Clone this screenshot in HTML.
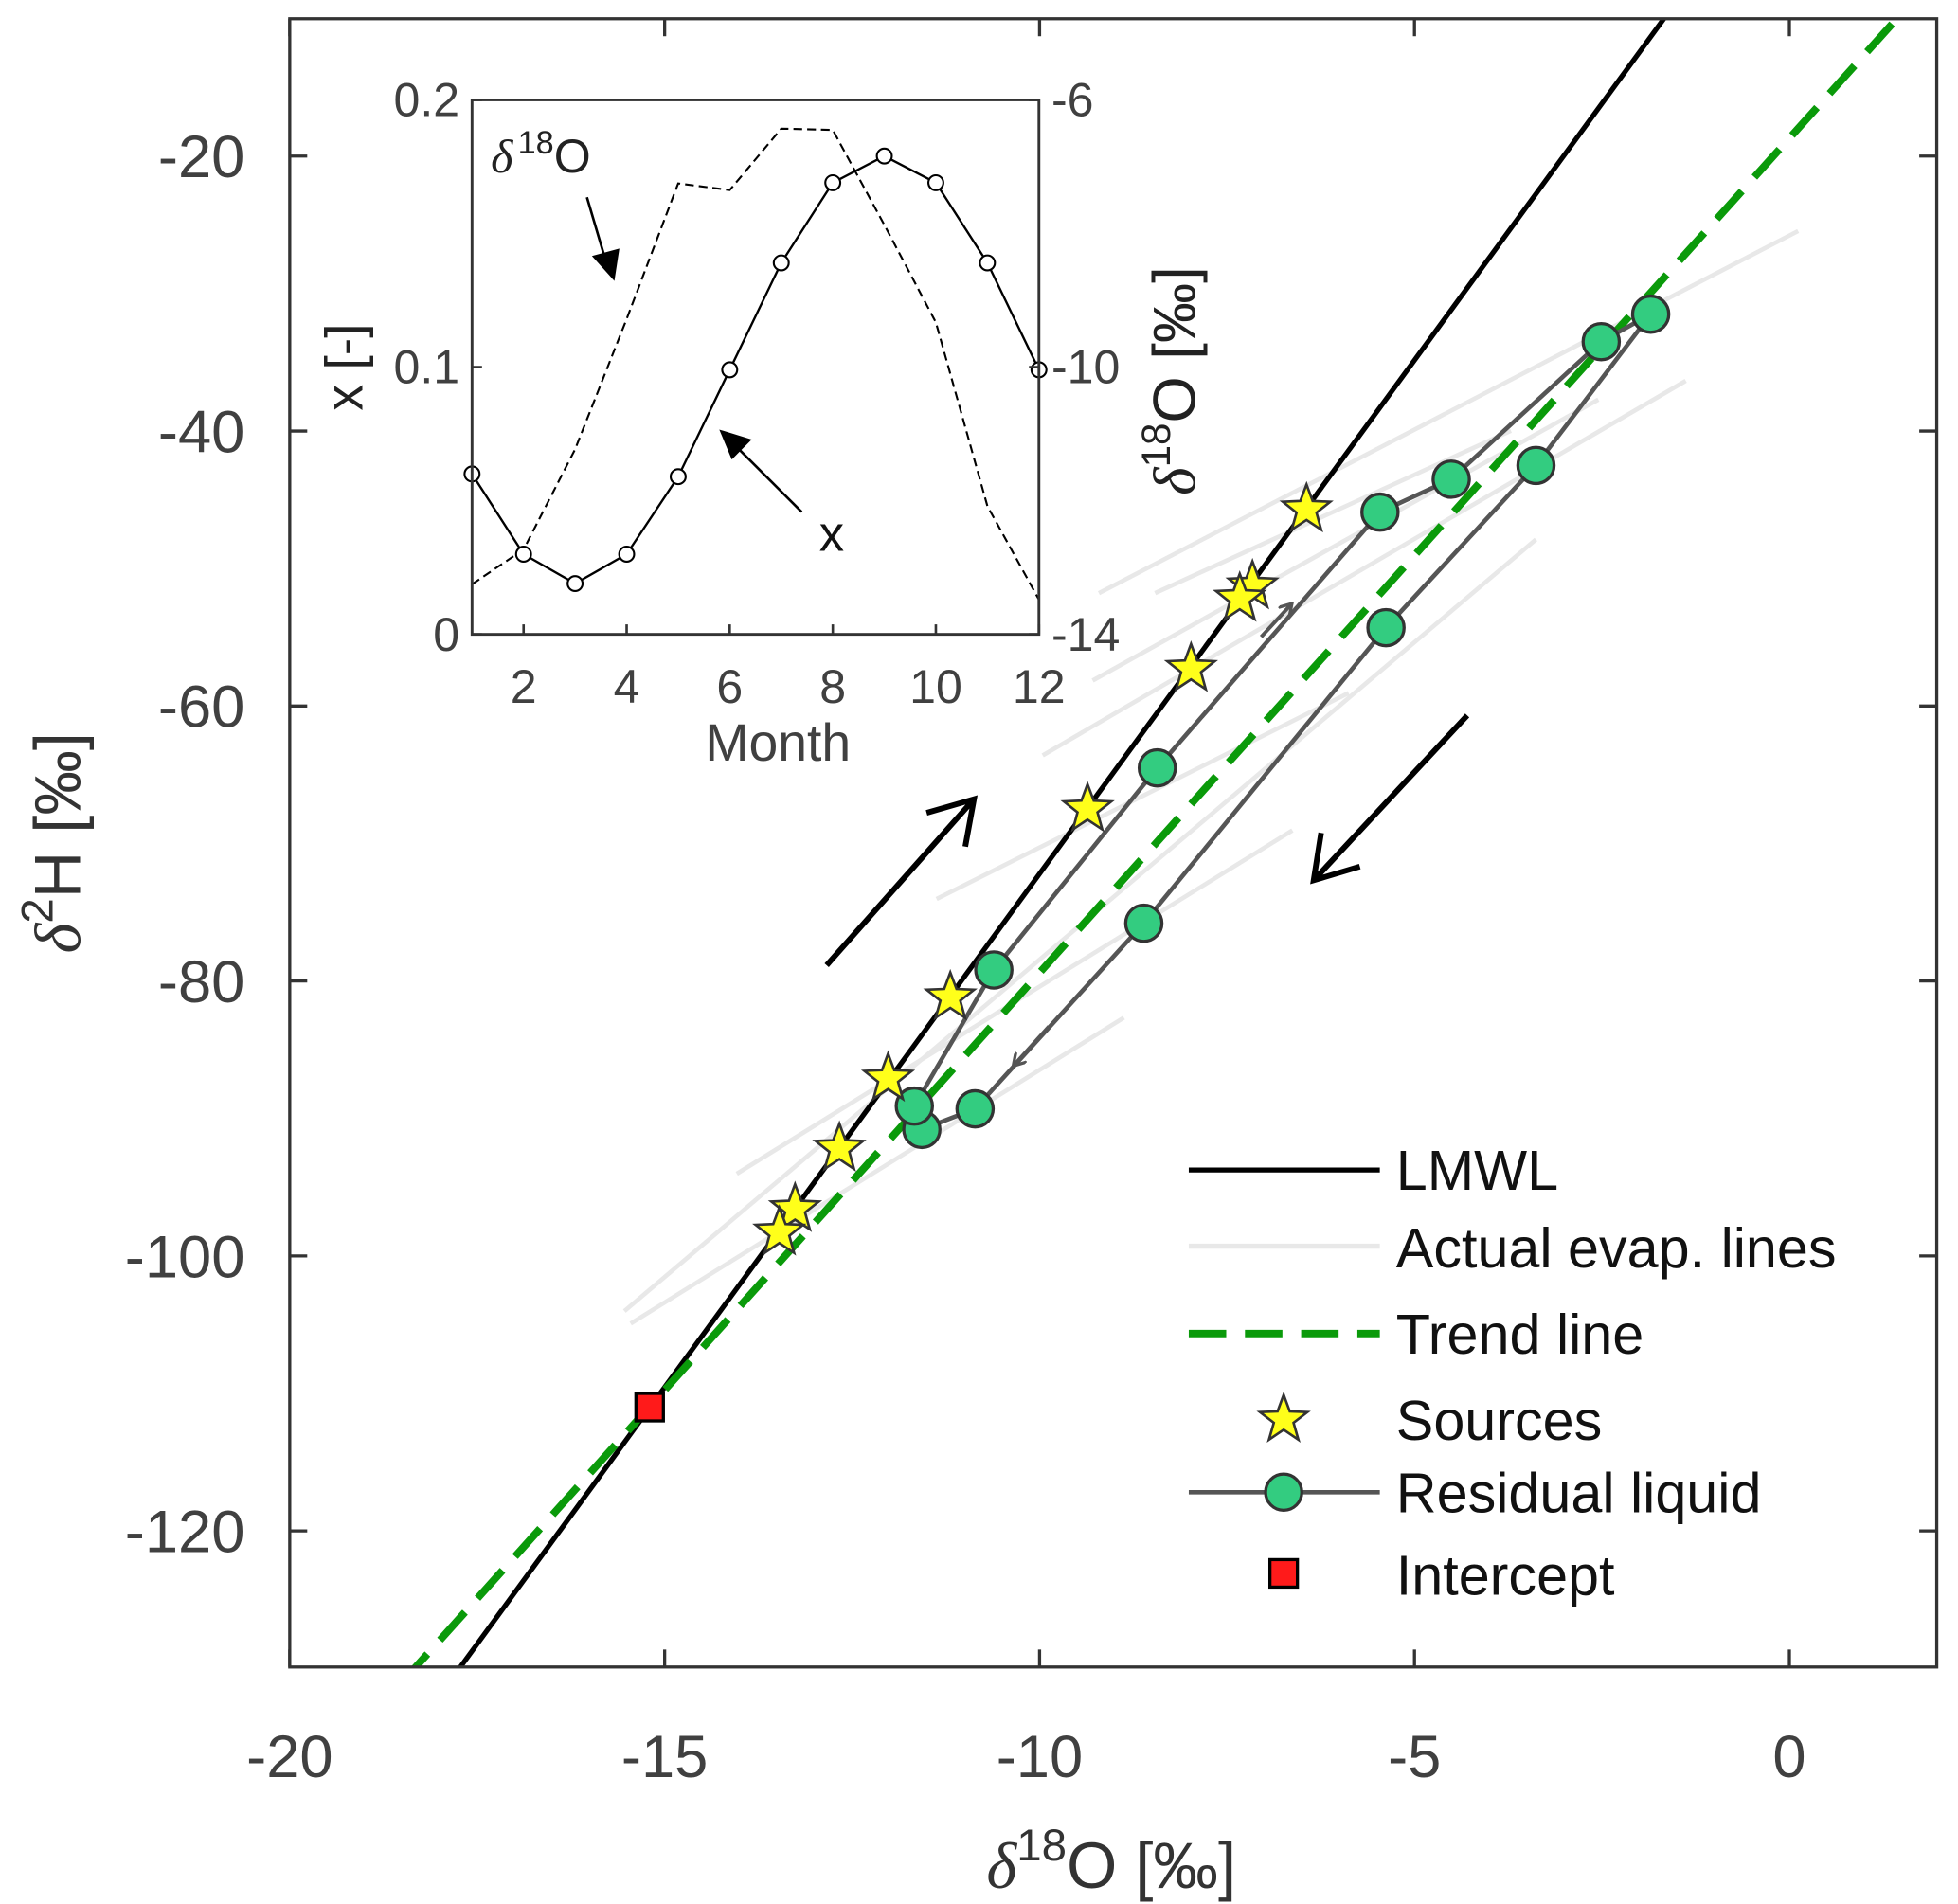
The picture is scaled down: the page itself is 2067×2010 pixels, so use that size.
<!DOCTYPE html>
<html><head><meta charset="utf-8"><style>
html,body{margin:0;padding:0;background:#fff;}
svg{display:block;font-family:"Liberation Sans",sans-serif;}
</style></head><body>
<svg id="chart" width="2067" height="2010" viewBox="0 0 1568 1524.8" xmlns="http://www.w3.org/2000/svg">
<g id="main"></g>
<g id="inset"></g>
</svg>
<script>
// ---- main chart data ----
const xTicks = [-20, -15, -10, -5, 0];
const yTicks = [-20, -40, -60, -80, -100, -120];
const lmwlSlope = 7.47, lmwlIntercept = 2.5;
const trendSlope = 6.07, trendIntercept = -18.7;
const srcX = [-6.44, -7.16, -7.33, -7.98, -9.36, -11.19, -12.02, -12.67, -13.26, -13.47];
const srcY = [-45.7, -51.3, -52.2, -57.3, -67.5, -81.2, -87.1, -92.2, -96.6, -98.3];
const resX = [-11.57, -11.67, -10.61, -8.43, -5.46, -4.51, -2.51, -1.85, -3.38, -5.38, -8.61, -10.86];
const resY = [-90.8, -89.1, -79.2, -64.5, -45.9, -43.5, -33.5, -31.5, -42.5, -54.3, -75.8, -89.3];
const interceptX = [-15.2];
const interceptY = [-111];
// ---- inset data ----
const months = [1,2,3,4,5,6,7,8,9,10,11,12];
const xFrac = [0.060, 0.030, 0.019, 0.030, 0.059, 0.099, 0.139, 0.169, 0.179, 0.169, 0.139, 0.099];
const d18O = [-13.25, -12.73, -11.23, -9.28, -7.25, -7.35, -6.43, -6.45, -7.87, -9.33, -12.08, -13.48];
const insetXTicks = [2,4,6,8,10,12];
const insetYTicks = [0, 0.1, 0.2];
const insetY2Ticks = [-6, -10, -14];

const NS = "http://www.w3.org/2000/svg";
const L=232,R=1551,T=15,B=1335;
const sx = v => 232 + (v+20)*60.05;
const sy = v => 125 - (v+20)*11.01;
function el(parent, tag, attrs, text){const e=document.createElementNS(NS,tag);for(const k in attrs)e.setAttribute(k,attrs[k]);if(text!==undefined)e.textContent=text;parent.appendChild(e);return e;}
const main=document.getElementById('main');
const inset=document.getElementById('inset');

const defs=el(main,'defs',{});
const cp=el(defs,'clipPath',{id:'clipMain'});el(cp,'rect',{x:L,y:T,width:R-L,height:B-T});
const mk=el(defs,'marker',{id:'arrowG',markerWidth:12,markerHeight:12,refX:9,refY:6,orient:'auto',markerUnits:'userSpaceOnUse'});
el(mk,'path',{d:'M0,0 L10,6 L0,12',fill:'none',stroke:'#555','stroke-width':2.5});

const evap=[[925,475,1210,345],[875,545,1280,320],[835,605,1350,305],[750,720,1080,555],[590,940,1035,665],[505,1060,900,815],[500,1050,1230,432],[880,475,1440,185]];
const eg=el(main,'g',{'clip-path':'url(#clipMain)'});
evap.forEach(s=>{const l=el(eg,'line',{x1:s[0],y1:s[1],x2:s[2],y2:s[3],stroke:'#e8e8e8','stroke-width':3.5});

});

const lg=el(main,'g',{'clip-path':'url(#clipMain)'});
const lm=el(lg,'line',{x1:sx(-20),y1:sy(lmwlSlope*-20+lmwlIntercept),x2:sx(2),y2:sy(lmwlSlope*2+lmwlIntercept),stroke:'#000','stroke-width':4});


const tr=el(lg,'line',{x1:sx(-20),y1:sy(trendSlope*-20+trendIntercept),x2:sx(2),y2:sy(trendSlope*2+trendIntercept),stroke:'#0a9a0a','stroke-width':6,'stroke-dasharray':'30,15'});



let pts=resX.map((x,i)=>sx(x)+','+sy(resY[i])).join(' ');
pts+=' '+sx(resX[0])+','+sy(resY[0]);
const rp=el(main,'polyline',{points:pts,fill:'none',stroke:'#555','stroke-width':3.5});


el(main,'line',{x1:1010,y1:510,x2:1034,y2:484,stroke:'#555','stroke-width':3,'marker-end':'url(#arrowG)'});
el(main,'line',{x1:840,y1:822,x2:812,y2:853,stroke:'#555','stroke-width':3,'marker-end':'url(#arrowG)'});

el(main,'path',{d:'M662,773 L780,640 M742,651 L780,640 L773,678',fill:'none',stroke:'#000','stroke-width':4.5});
el(main,'path',{d:'M1175,573 L1052,705 M1058,667 L1052,705 L1089,694',fill:'none',stroke:'#000','stroke-width':4.5});

function star(cx,cy,r){let d='';for(let i=0;i<10;i++){const rr=i%2?r*0.42:r;const a=-Math.PI/2+i*Math.PI/5;d+=(i?'L':'M')+(cx+rr*Math.cos(a)).toFixed(1)+','+(cy+rr*Math.sin(a)).toFixed(1);}return d+'Z';}
resX.forEach((x,i)=>{const c=el(main,'circle',{cx:sx(x),cy:sy(resY[i]),r:14.5,fill:'#33cc80',stroke:'#333','stroke-width':2.5});

});
srcX.forEach((x,i)=>{const s=el(main,'path',{d:star(sx(x),sy(srcY[i]),20),fill:'#ffff1a',stroke:'#333','stroke-width':2});

});
interceptX.forEach((x,i)=>{const q=el(main,'rect',{x:sx(x)-11,y:sy(interceptY[i])-11,width:22,height:22,fill:'#ff1a1a',stroke:'#000','stroke-width':2.5});

});

el(main,'rect',{x:L,y:T,width:R-L,height:B-T,fill:'none',stroke:'#333','stroke-width':2.5});
xTicks.forEach(v=>{const x=sx(v);el(main,'line',{x1:x,y1:B,x2:x,y2:B-14,stroke:'#333','stroke-width':2.5});el(main,'line',{x1:x,y1:T,x2:x,y2:T+14,stroke:'#333','stroke-width':2.5});
const t=el(main,'text',{x:x,y:1423,'font-size':48,fill:'#404040','text-anchor':'middle'},v);

});
yTicks.forEach(v=>{const y=sy(v);el(main,'line',{x1:L,y1:y,x2:L+14,y2:y,stroke:'#333','stroke-width':2.5});el(main,'line',{x1:R,y1:y,x2:R-14,y2:y,stroke:'#333','stroke-width':2.5});
const t=el(main,'text',{x:196,y:y+17,'font-size':48,fill:'#404040','text-anchor':'end'},v);

});
</script>
<script>
(function(){
const main=document.getElementById('main');
main.insertAdjacentHTML('beforeend',`
<text x="890" y="1512" font-size="52" fill="#333" text-anchor="middle"><tspan font-family="Liberation Serif" font-style="italic">δ</tspan><tspan font-size="36" dy="-22">18</tspan><tspan dy="22">O [‰]</tspan></text>
<text transform="translate(64,675) rotate(-90)" font-size="52" fill="#333" text-anchor="middle"><tspan font-family="Liberation Serif" font-style="italic">δ</tspan><tspan font-size="36" dy="-22">2</tspan><tspan dy="22">H [‰]</tspan></text>
<g font-size="45" fill="#111">
<line x1="952" y1="937" x2="1105" y2="937" stroke="#000" stroke-width="4"/>
<text x="1118" y="953">LMWL</text>
<line x1="952" y1="998" x2="1105" y2="998" stroke="#e8e8e8" stroke-width="4"/>
<text x="1118" y="1015">Actual evap. lines</text>
<line x1="952" y1="1068" x2="1105" y2="1068" stroke="#0a9a0a" stroke-width="6" stroke-dasharray="30,15"/>
<text x="1118" y="1084">Trend line</text>
<path d="M1028,1117 L1032.9,1130.3 L1047,1130.8 L1035.9,1139.4 L1039.8,1153 L1028,1145 L1016.2,1153 L1020.1,1139.4 L1009,1130.8 L1023.1,1130.3 Z" fill="#ffff1a" stroke="#333" stroke-width="2"/>
<text x="1118" y="1153">Sources</text>
<line x1="952" y1="1195" x2="1105" y2="1195" stroke="#555" stroke-width="3.5"/>
<circle cx="1028" cy="1195" r="14.5" fill="#33cc80" stroke="#333" stroke-width="2.5"/>
<text x="1118" y="1211">Residual liquid</text>
<rect x="1017" y="1249" width="22" height="22" fill="#ff1a1a" stroke="#000" stroke-width="2.5"/>
<text x="1118" y="1277">Intercept</text>
</g>`);
})();
</script>
<script>
(function(){
const NS="http://www.w3.org/2000/svg";
const inset=document.getElementById('inset');
function el(p,t,a,txt){const e=document.createElementNS(NS,t);for(const k in a)e.setAttribute(k,a[k]);if(txt!==undefined)e.textContent=txt;p.appendChild(e);return e;}
const iL=378,iR=832,iT=80,iB=508;
const ix=m=>iL+(m-1)*(iR-iL)/11;
const iy=v=>iB-v*(iB-iT)/0.2;
const iy2=v=>iB-(v+14)*(iB-iT)/8;
el(inset,'rect',{x:iL,y:iT,width:iR-iL,height:iB-iT,fill:'#fff',stroke:'none'});
const dl=el(inset,'polyline',{points:months.map((m,i)=>ix(m)+','+iy2(d18O[i])).join(' '),fill:'none',stroke:'#000','stroke-width':1.6,'stroke-dasharray':'7,4'});


const xl=el(inset,'polyline',{points:months.map((m,i)=>ix(m)+','+iy(xFrac[i])).join(' '),fill:'none',stroke:'#000','stroke-width':1.8});


months.forEach((m,i)=>{const c=el(inset,'circle',{cx:ix(m),cy:iy(xFrac[i]),r:6,fill:'#fff',stroke:'#000','stroke-width':1.6});

});
el(inset,'rect',{x:iL,y:iT,width:iR-iL,height:iB-iT,fill:'none',stroke:'#333','stroke-width':2.2});
insetXTicks.forEach(m=>{el(inset,'line',{x1:ix(m),y1:iB,x2:ix(m),y2:iB-8,stroke:'#333','stroke-width':2});
const t=el(inset,'text',{x:ix(m),y:563,'font-size':38,fill:'#404040','text-anchor':'middle'},m);

});
insetYTicks.forEach(v=>{el(inset,'line',{x1:iL,y1:iy(v),x2:iL+8,y2:iy(v),stroke:'#333','stroke-width':2});
const t=el(inset,'text',{x:368,y:iy(v)+13,'font-size':38,fill:'#404040','text-anchor':'end'},v);

});
insetY2Ticks.forEach(v=>{el(inset,'line',{x1:iR,y1:iy2(v),x2:iR-8,y2:iy2(v),stroke:'#333','stroke-width':2});
const t=el(inset,'text',{x:842,y:iy2(v)+13,'font-size':38,fill:'#404040'},v);

});
inset.insertAdjacentHTML('beforeend',`
<text x="623" y="609" font-size="42" fill="#404040" text-anchor="middle">Month</text>
<text transform="translate(290,294) rotate(-90)" font-size="42" fill="#222" text-anchor="middle">x [-]</text>
<text transform="translate(957,305) rotate(-90)" font-size="48" fill="#222" text-anchor="middle"><tspan font-family="Liberation Serif" font-style="italic">δ</tspan><tspan font-size="32" dy="-20">18</tspan><tspan dy="20">O [‰]</tspan></text>
<text x="393" y="138" font-size="38" fill="#222"><tspan font-family="Liberation Serif" font-style="italic">δ</tspan><tspan font-size="26" dy="-15" dx="4">18</tspan><tspan dy="15">O</tspan></text>
<path d="M470,158 L486,212" stroke="#000" stroke-width="2" fill="none"/>
<path d="M474,205 L492,225 L496,199 Z" fill="#000"/>
<text x="656" y="441" font-size="40" fill="#111">x</text>
<path d="M642,410 L590,358" stroke="#000" stroke-width="2" fill="none"/>
<path d="M576,344 L602,352 L586,368 Z" fill="#000"/>`);
})();
</script>
</body></html>
